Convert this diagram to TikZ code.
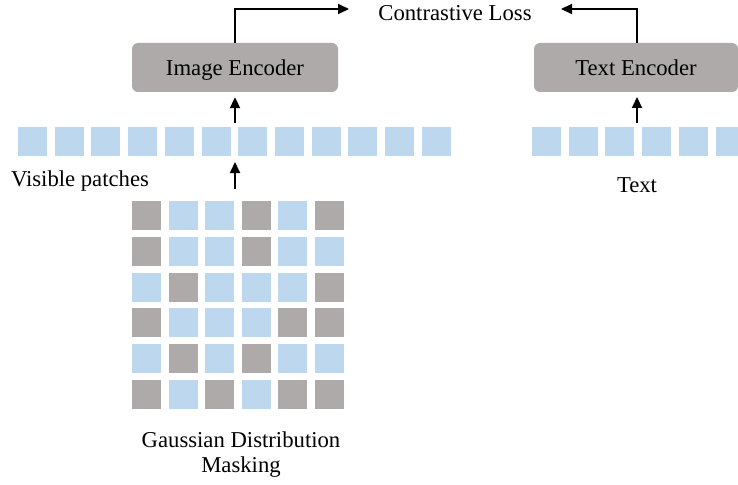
\documentclass[tikz,border=0pt]{standalone}
\usepackage{fontspec}
\setmainfont{Liberation Serif}
\usetikzlibrary{arrows.meta}
\definecolor{pblue}{HTML}{BDD7EE}
\definecolor{pgray}{HTML}{AEAAAA}
\begin{document}
\begin{tikzpicture}[x=1pt,y=-1pt,
  lbl/.style={font=\fontsize{22.7}{25}\selectfont, inner sep=0pt, align=center},
  encbox/.style={fill=pgray, rounded corners=6pt, minimum height=49pt, inner sep=0pt, text height=17pt, text depth=0pt, font=\fontsize{22.7}{25}\selectfont},
  sq/.style={minimum width=29pt, minimum height=29pt, inner sep=0pt, draw=none},
  conn/.style={line width=2pt, -{Triangle[length=11pt,width=10pt]}}]
\clip (0,0) rectangle (738,484);
\useasboundingbox (0,0) rectangle (738,484);
% encoders
\node[encbox, minimum width=206pt] (imgenc) at (235,67.5) {Image Encoder};
\node[encbox, minimum width=204pt] (txtenc) at (636,67.5) {Text Encoder};
\node[lbl] (loss) at (455,13) {Contrastive Loss};
\coordinate (lossL) at (349,9);
\coordinate (lossR) at (561,9);
% visible patches
\foreach \i in {0,...,11}
  \node[sq, fill=pblue] (vp\i) at (32.5+36.7*\i,141.5) {};
% text patches
\foreach \i in {0,...,5}
  \node[sq, fill=pblue] (tp\i) at (546.5+36.7*\i,141.5) {};
% grid
\foreach \row [count=\r from 0] in {
  {pgray,pblue,pblue,pgray,pblue,pgray},
  {pgray,pblue,pblue,pgray,pblue,pblue},
  {pblue,pgray,pblue,pblue,pblue,pgray},
  {pgray,pblue,pblue,pblue,pgray,pgray},
  {pblue,pgray,pblue,pgray,pblue,pblue},
  {pgray,pblue,pgray,pblue,pgray,pgray}}{
  \foreach \c [count=\j from 0] in \row
    \node[sq, fill=\c] (g\r\j) at (146.5+36.6*\j,215.5+35.8*\r) {};
}
% labels
\node[lbl] (vislbl) at (80,181) {Visible patches};
\node[lbl] (txtlbl) at (637,185) {Text};
\node[lbl] (gauss) at (241,455) {Gaussian Distribution\\Masking};
% arrows
\coordinate (a1s) at (235,123);
\coordinate (a2s) at (235,189);
\coordinate (a2e) at (235,162);
\coordinate (a3s) at (637,123);
\coordinate (a3e) at (637,97);
\draw[conn, shorten >=5pt] (a1s) -- (imgenc.south);
\draw[conn] (a2s) -- (a2e);
\draw[conn] (a3s) -- (a3e);
\draw[conn] (imgenc.north) |- (lossL);
\draw[conn] (txtenc.north -| a3s) |- (lossR);
\end{tikzpicture}
\end{document}
